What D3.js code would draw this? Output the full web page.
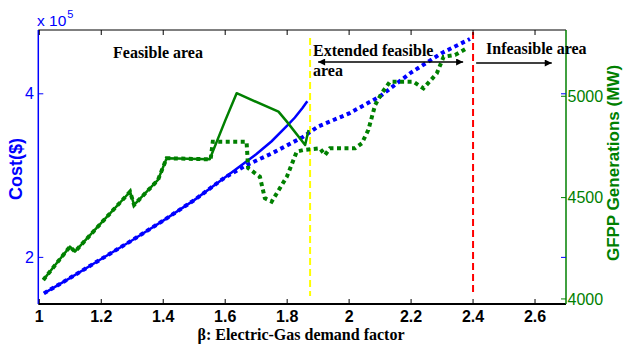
<!DOCTYPE html>
<head>
  <script src="https://d3js.org/d3.v7.min.js"></script>
  <style>
    body { margin: 0; background: #fff; }
  </style>
</head>
<body>
<script type="text/javascript">
  var w = 623;
  var h = 346;

  // cost (x 10^5 $), left axis
  var costBeta = [1.015, 1.1, 1.2, 1.3, 1.4, 1.5, 1.6, 1.65, 1.7, 1.75, 1.8, 1.825, 1.85, 1.865];
  var costSolid = [1.56, 1.75, 1.98, 2.21, 2.45, 2.70, 2.98, 3.12, 3.26, 3.42, 3.61, 3.71, 3.83, 3.91];
  var costDotBeta = [1.015, 1.1, 1.2, 1.3, 1.4, 1.5, 1.6, 1.67, 1.75, 1.85, 1.9, 2.0, 2.1, 2.2, 2.3, 2.39];
  var costDot = [1.56, 1.75, 1.98, 2.21, 2.45, 2.70, 2.98, 3.13, 3.27, 3.47, 3.60, 3.76, 3.97, 4.26, 4.50, 4.67];

  // GFPP generation (MW), right axis
  var genBeta = [1.013, 1.05, 1.099, 1.115, 1.2, 1.293, 1.306, 1.383, 1.411, 1.55, 1.6, 1.637, 1.772, 1.799, 1.858, 1.869];
  var genSolid = [4094, 4165, 4258, 4233, 4375, 4529, 4464, 4587, 4694, 4689, 4880, 5015, 4924, 4875, 4760, 4834];
  var genDotBeta = [1.013, 1.05, 1.099, 1.115, 1.2, 1.293, 1.306, 1.383, 1.411, 1.553, 1.56, 1.669, 1.674, 1.712, 1.728, 1.75,
                    1.799, 1.831, 1.853, 1.906, 1.922, 1.938, 2.019, 2.041, 2.062, 2.084, 2.105, 2.132, 2.207, 2.24,
                    2.283, 2.305, 2.342, 2.38];
  var genDot = [4094, 4165, 4258, 4233, 4375, 4529, 4464, 4587, 4694, 4689, 4776, 4776, 4646, 4603, 4497, 4480,
                4603, 4727, 4735, 4743, 4710, 4743, 4743, 4768, 4834, 4957, 5015, 5072, 5072, 5039,
                5113, 5195, 5204, 5237];

  var xTicks = [1, 1.2, 1.4, 1.6, 1.8, 2, 2.2, 2.4, 2.6];
  var leftTicks = [2, 4];
  var rightTicks = [4000, 4500, 5000];
  var limits = [1.874, 2.4];

  var pl = 39.3, pr = 566, pt = 30, pb = 304;

  var svg = d3.select("body")
    .append("svg")
    .attr("width", w)
    .attr("height", h)
    .style("font-family", "Liberation Sans, Arial, sans-serif");

  var xScale = d3.scaleLinear().domain([1, 2.7]).range([pl, pr]);
  var yLeft = d3.scaleLinear().domain([1.43, 4.78]).range([pb, pt]);
  var yRight = d3.scaleLinear().domain([3975, 5327]).range([pb, pt]);

  var blue = "#0000ff", green = "#008000";

  // limit lines
  svg.append("line")
    .attr("x1", xScale(limits[0])).attr("x2", xScale(limits[0]))
    .attr("y1", pt + 8).attr("y2", 296)
    .attr("stroke", "#ffff00").attr("stroke-width", 2)
    .attr("stroke-dasharray", "7,4");
  svg.append("line")
    .attr("x1", xScale(limits[1])).attr("x2", xScale(limits[1]))
    .attr("y1", pt + 2).attr("y2", 296)
    .attr("stroke", "#ff0000").attr("stroke-width", 2)
    .attr("stroke-dasharray", "7,4");

  function lineFor(xs, ys, yScale) {
    var pts = xs.map(function(d, i) { return [xScale(d), yScale(ys[i])]; });
    return d3.line()(pts);
  }

  // curves
  svg.append("path").attr("d", lineFor(costBeta, costSolid, yLeft))
    .attr("fill", "none").attr("stroke", blue).attr("stroke-width", 2.5);
  svg.append("path").attr("d", lineFor(costDotBeta, costDot, yLeft))
    .attr("fill", "none").attr("stroke", blue).attr("stroke-width", 4)
    .attr("stroke-dasharray", "4,3.5");
  svg.append("path").attr("d", lineFor(genBeta, genSolid, yRight))
    .attr("fill", "none").attr("stroke", green).attr("stroke-width", 2.5)
    .attr("stroke-linejoin", "round");
  svg.append("path").attr("d", lineFor(genDotBeta, genDot, yRight))
    .attr("fill", "none").attr("stroke", green).attr("stroke-width", 4)
    .attr("stroke-dasharray", "4,3.5");

  // frame
  svg.append("line").attr("x1", pl - 1).attr("x2", pr).attr("y1", pt).attr("y2", pt)
    .attr("stroke", "#000").attr("stroke-width", 1);
  svg.append("line").attr("x1", pl - 1).attr("x2", pr).attr("y1", pb).attr("y2", pb)
    .attr("stroke", "#000").attr("stroke-width", 2);
  svg.append("line").attr("x1", pl - 1).attr("x2", pl - 1).attr("y1", pt).attr("y2", pb)
    .attr("stroke", blue).attr("stroke-width", 1.5);
  svg.append("line").attr("x1", pr).attr("x2", pr).attr("y1", pt).attr("y2", pb)
    .attr("stroke", green).attr("stroke-width", 1.5);

  // x ticks top and bottom
  xTicks.forEach(function(t) {
    svg.append("line").attr("x1", xScale(t)).attr("x2", xScale(t))
      .attr("y1", pb).attr("y2", pb - 5).attr("stroke", "#000").attr("stroke-width", 1);
    svg.append("line").attr("x1", xScale(t)).attr("x2", xScale(t))
      .attr("y1", pt).attr("y2", pt + 5).attr("stroke", "#000").attr("stroke-width", 1);
    svg.append("text").attr("x", xScale(t)).attr("y", 322)
      .attr("text-anchor", "middle").attr("font-size", 16).attr("font-weight", "bold")
      .text(d3.format("")(t));
  });

  // left ticks (blue), mirrored on right side
  leftTicks.forEach(function(t) {
    svg.append("line").attr("x1", pl - 1).attr("x2", pl + 4)
      .attr("y1", yLeft(t)).attr("y2", yLeft(t)).attr("stroke", blue).attr("stroke-width", 1);
    svg.append("line").attr("x1", pr - 5).attr("x2", pr)
      .attr("y1", yLeft(t)).attr("y2", yLeft(t)).attr("stroke", blue).attr("stroke-width", 1);
    svg.append("text").attr("x", 34).attr("y", yLeft(t)).attr("dy", "0.35em")
      .attr("text-anchor", "end").attr("font-size", 16).attr("fill", blue)
      .text(t);
  });

  rightTicks.forEach(function(t) {
    svg.append("line").attr("x1", pr - 5).attr("x2", pr)
      .attr("y1", yRight(t)).attr("y2", yRight(t)).attr("stroke", green).attr("stroke-width", 1);
    svg.append("text").attr("x", pr + 1.5).attr("y", yRight(t)).attr("dy", "0.36em")
      .attr("font-size", 16).attr("fill", green)
      .text(t);
  });

  // exponent label
  var ex = svg.append("text").attr("x", 37).attr("y", 26).attr("fill", blue).attr("font-size", 15.5);
  ex.append("tspan").text("x 10");
  ex.append("tspan").attr("font-size", 11).attr("dy", -8).attr("dx", 1).text("5");

  // axis titles
  svg.append("text")
    .attr("transform", "translate(22,169) rotate(-90)")
    .attr("text-anchor", "middle").attr("font-size", 18).attr("font-weight", "bold")
    .attr("fill", blue).text("Cost($)");
  svg.append("text")
    .attr("transform", "translate(619,163) rotate(-90)")
    .attr("text-anchor", "middle").attr("font-size", 17).attr("font-weight", "bold")
    .attr("fill", green).text("GFPP Generations (MW)");
  svg.append("text")
    .attr("x", 301).attr("y", 340)
    .attr("text-anchor", "middle").attr("font-size", 16).attr("font-weight", "bold")
    .style("font-family", "Liberation Serif, Times New Roman, serif")
    .text("β: Electric-Gas demand factor");

  // annotations
  var serif = "Liberation Serif, Times New Roman, serif";
  function note(x, y, s) {
    svg.append("text").attr("x", x).attr("y", y)
      .attr("font-size", 16).attr("font-weight", "bold")
      .style("font-family", serif).text(s);
  }
  note(113, 58, "Feasible area");
  note(313, 56, "Extended feasible");
  note(313, 76, "area");
  note(486, 54, "Infeasible area");

  var defs = svg.append("defs");
  defs.append("marker").attr("id", "head")
    .attr("viewBox", "0 0 10 10").attr("refX", 10).attr("refY", 5)
    .attr("markerWidth", 9).attr("markerHeight", 7).attr("markerUnits", "userSpaceOnUse")
    .attr("orient", "auto-start-reverse")
    .append("path").attr("d", "M0,0L10,5L0,10z").attr("fill", "#000");

  svg.append("line")
    .attr("x1", xScale(1.9)).attr("x2", xScale(2.368))
    .attr("y1", 62).attr("y2", 62)
    .attr("stroke", "#000").attr("stroke-width", 1.5)
    .attr("marker-start", "url(#head)").attr("marker-end", "url(#head)");
  svg.append("line")
    .attr("x1", xScale(2.41)).attr("x2", xScale(2.654))
    .attr("y1", 63).attr("y2", 63)
    .attr("stroke", "#000").attr("stroke-width", 1.5)
    .attr("marker-end", "url(#head)");
</script>
</body>
